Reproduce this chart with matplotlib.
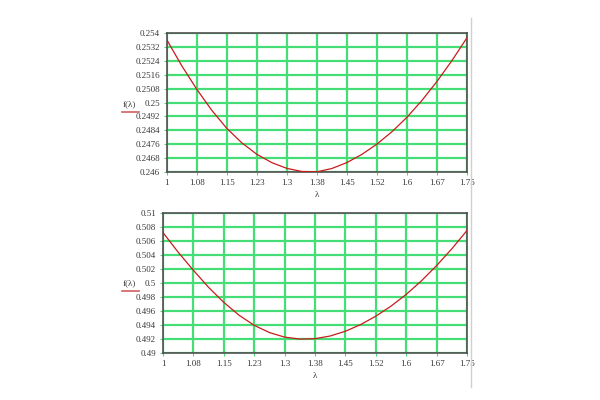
import matplotlib
matplotlib.use('Agg')
import matplotlib.pyplot as plt
from matplotlib.lines import Line2D

# valores
lam = [1.0, 1.0375, 1.075, 1.1125, 1.15, 1.1875, 1.225, 1.2625, 1.3, 1.3375,
       1.375, 1.4125, 1.45, 1.4875, 1.525, 1.5625, 1.6, 1.6375, 1.675, 1.7125, 1.75]
f_sup = [0.25361, 0.25211, 0.25076, 0.24955, 0.24851, 0.24768, 0.24702, 0.24654,
         0.24621, 0.24603, 0.24601, 0.24620, 0.24654, 0.24701, 0.24760, 0.24831,
         0.24914, 0.25011, 0.25120, 0.25240, 0.25371]
f_inf = [0.50720, 0.50439, 0.50181, 0.49937, 0.49723, 0.49540, 0.49395, 0.49292,
         0.49227, 0.49199, 0.49205, 0.49243, 0.49311, 0.49406, 0.49526, 0.49670,
         0.49837, 0.50031, 0.50249, 0.50489, 0.50751]

x_ticks = [1.0, 1.075, 1.15, 1.225, 1.3, 1.375, 1.45, 1.525, 1.6, 1.675, 1.75]
x_labels = ['1', '1.08', '1.15', '1.23', '1.3', '1.38', '1.45', '1.52', '1.6', '1.67', '1.75']
y_ticks_sup = [0.246 + 0.0008 * i for i in range(11)]
y_labels_sup = ['0.246', '0.2468', '0.2476', '0.2484', '0.2492', '0.25',
                '0.2508', '0.2516', '0.2524', '0.2532', '0.254']
y_ticks_inf = [0.49 + 0.002 * i for i in range(11)]
y_labels_inf = ['0.49', '0.492', '0.494', '0.496', '0.498', '0.5',
                '0.502', '0.504', '0.506', '0.508', '0.51']

plt.rcParams['font.family'] = ['Liberation Serif', 'DejaVu Serif']
plt.rcParams['font.size'] = 6.5

verde = '#45dd75'
vermelho = '#c81c1c'

fig = plt.figure(figsize=(6, 4), dpi=100)
ax1 = fig.add_axes([0.278, 0.57, 0.5, 0.3475])
ax2 = fig.add_axes([0.2717, 0.1175, 0.5067, 0.35])


def grafico(ax, y, yt, yl, centro_y):
    ax.plot(lam, y, color=vermelho, linewidth=0.9, zorder=3)
    ax.set_xlim(1.0, 1.75)
    ax.set_ylim(yt[0], yt[-1])
    ax.set_xticks(x_ticks)
    ax.set_xticklabels(x_labels)
    ax.set_yticks(yt)
    ax.set_yticklabels(yl)
    ax.grid(True, color=verde, linewidth=1.6)
    ax.tick_params(length=2, color=verde, pad=3, labelcolor='#3a3a3a')
    for s in ax.spines.values():
        s.set_color('#505050')
        s.set_linewidth(1.2)
    ax.set_xlabel('λ', labelpad=3, color='#3a3a3a')
    fig.text(0.215, centro_y, 'f(λ)', ha='center', va='center', color='#3a3a3a')
    fig.add_artist(Line2D([0.203, 0.231], [centro_y - 0.021, centro_y - 0.021],
                          color='#d06060', linewidth=1.2))


grafico(ax1, f_sup, y_ticks_sup, y_labels_sup, 0.74)
grafico(ax2, f_inf, y_ticks_inf, y_labels_inf, 0.2925)

fig.add_artist(Line2D([0.7845, 0.7845], [0.0325, 0.955], color='#d0d0d0', linewidth=1.0))

fig.savefig('out.png', dpi=100)
